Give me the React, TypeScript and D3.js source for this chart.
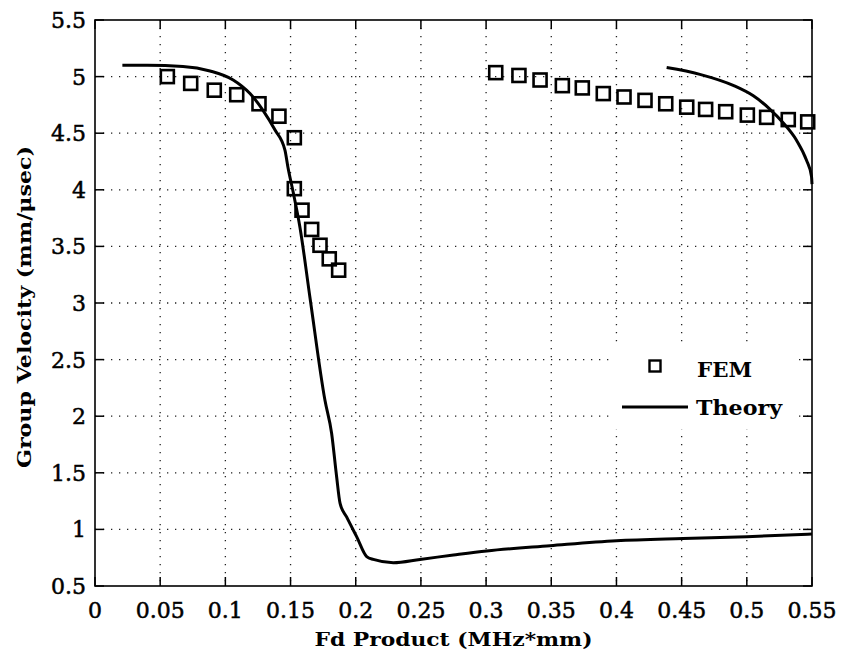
import React from "react";
import * as d3 from "d3";

const xTicks = [0, 0.05, 0.1, 0.15, 0.2, 0.25, 0.3, 0.35, 0.4, 0.45, 0.5, 0.55];
const yTicks = [0.5, 1, 1.5, 2, 2.5, 3, 3.5, 4, 4.5, 5, 5.5];

const femX = [0.0555, 0.0734, 0.0915, 0.1087, 0.1258, 0.1411, 0.1529, 0.1529, 0.1588, 0.1662, 0.1726, 0.1797, 0.1869,
  0.3074, 0.3252, 0.3414, 0.3585, 0.3738, 0.3899, 0.4058, 0.4219, 0.4378, 0.4539, 0.4684, 0.4838, 0.5004, 0.5152, 0.5318, 0.5467];
const femY = [5.0, 4.94, 4.88, 4.84, 4.76, 4.65, 4.46, 4.01, 3.82, 3.65, 3.51, 3.39, 3.29,
  5.035, 5.01, 4.97, 4.92, 4.9, 4.85, 4.82, 4.79, 4.76, 4.73, 4.71, 4.69, 4.66, 4.64, 4.62, 4.6];

const theory1X = [0.021, 0.04, 0.0675, 0.0882, 0.106, 0.1189, 0.129, 0.138, 0.1457, 0.148, 0.152, 0.1572, 0.165, 0.1764, 0.1815, 0.1853, 0.188, 0.193, 0.2007, 0.2084, 0.2135, 0.2288, 0.2493, 0.275, 0.3005, 0.349, 0.4, 0.451, 0.5, 0.55];
const theory1Y = [5.1, 5.1, 5.09, 5.05, 4.97, 4.85, 4.7, 4.53, 4.35, 4.2, 3.98, 3.67, 3.04, 2.14, 1.85, 1.47, 1.23, 1.11, 0.936, 0.76, 0.735, 0.706, 0.735, 0.774, 0.81, 0.856, 0.9, 0.92, 0.935, 0.96];

const theory2X = [0.4385, 0.464, 0.49, 0.505, 0.517, 0.528, 0.538, 0.5458, 0.5496, 0.55];
const theory2Y = [5.08, 5.02, 4.92, 4.83, 4.72, 4.59, 4.44, 4.26, 4.12, 4.05];

const W = 842, H = 658;
const L = 95, R = 812, T = 20, B = 586;
const FONT = "'DejaVu Serif', serif";

export default function App() {
  const x = d3.scaleLinear().domain([0, 0.55]).range([L, R]);
  const y = d3.scaleLinear().domain([0.5, 5.5]).range([B, T]);
  const line = d3.line<[number, number]>().x(d => x(d[0])).y(d => y(d[1])).curve(d3.curveMonotoneX);
  const t1 = line(theory1X.map((v, i) => [v, theory1Y[i]] as [number, number])) || "";
  const t2 = line(theory2X.map((v, i) => [v, theory2Y[i]] as [number, number])) || "";
  const sq = 13;
  const tickLen = 9;
  return (
    <svg width={W} height={H} style={{ position: "absolute", left: 0, top: 0, background: "#fff" }}>
      <rect x={0} y={0} width={W} height={H} fill="#fff" />
      {/* grid */}
      {xTicks.slice(1, -1).map((t, i) => (
        <line key={"gx" + i} x1={x(t)} x2={x(t)} y1={T} y2={B} stroke="#222" strokeWidth={1.3} strokeDasharray="1.3,6.7" />
      ))}
      {yTicks.slice(1, -1).map((t, i) => (
        <line key={"gy" + i} x1={L} x2={R} y1={y(t)} y2={y(t)} stroke="#222" strokeWidth={1.3} strokeDasharray="1.3,6.7" />
      ))}
      {/* ticks */}
      {xTicks.map((t, i) => (
        <g key={"tx" + i}>
          <line x1={x(t)} x2={x(t)} y1={B} y2={B - tickLen} stroke="#000" strokeWidth={1.5} />
          <line x1={x(t)} x2={x(t)} y1={T} y2={T + tickLen} stroke="#000" strokeWidth={1.5} />
          <text x={x(t)} y={618} textAnchor="middle" fontFamily={FONT} fontSize={22} fill="#000" stroke="#000" strokeWidth={0.5}>{String(t)}</text>
        </g>
      ))}
      {yTicks.map((t, i) => (
        <g key={"ty" + i}>
          <line x1={L} x2={L + tickLen} y1={y(t)} y2={y(t)} stroke="#000" strokeWidth={1.5} />
          <line x1={R} x2={R - tickLen} y1={y(t)} y2={y(t)} stroke="#000" strokeWidth={1.5} />
          <text x={86} y={y(t) + 8} textAnchor="end" fontFamily={FONT} fontSize={22} fill="#000" stroke="#000" strokeWidth={0.5}>{String(t)}</text>
        </g>
      ))}
      {/* data */}
      <path d={t1} fill="none" stroke="#000" strokeWidth={3} />
      <path d={t2} fill="none" stroke="#000" strokeWidth={3} />
      {femX.map((v, i) => (
        <rect key={"f" + i} x={x(v) - sq / 2} y={y(femY[i]) - sq / 2} width={sq} height={sq} fill="none" stroke="#000" strokeWidth={2.6} />
      ))}
      {/* legend */}
      <rect x={612} y={345} width={183} height={84} fill="#fff" />
      <rect x={655 - 5.5} y={366 - 5.5} width={11} height={11} fill="none" stroke="#000" strokeWidth={2.4} />
      <text x={697} y={377} fontFamily={FONT} fontWeight="bold" fontSize={21} textLength={55} lengthAdjust="spacingAndGlyphs" fill="#000">FEM</text>
      <line x1={622} x2={688} y1={407} y2={407} stroke="#000" strokeWidth={3} />
      <text x={696} y={415} fontFamily={FONT} fontWeight="bold" fontSize={21} textLength={86} lengthAdjust="spacingAndGlyphs" fill="#000">Theory</text>
      {/* axes box */}
      <rect x={L} y={T} width={R - L} height={B - T} fill="none" stroke="#000" strokeWidth={1.6} />
      {/* labels */}
      <text x={(L + R) / 2} y={646} textAnchor="middle" fontFamily={FONT} fontWeight="bold" fontSize={19} textLength={278} lengthAdjust="spacingAndGlyphs" fill="#000">Fd Product (MHz*mm)</text>
      <text transform={`translate(31,${307}) rotate(-90)`} textAnchor="middle" fontFamily={FONT} fontWeight="bold" fontSize={19} textLength={322} lengthAdjust="spacingAndGlyphs" fill="#000">Group Velocity (mm/μsec)</text>
    </svg>
  );
}
